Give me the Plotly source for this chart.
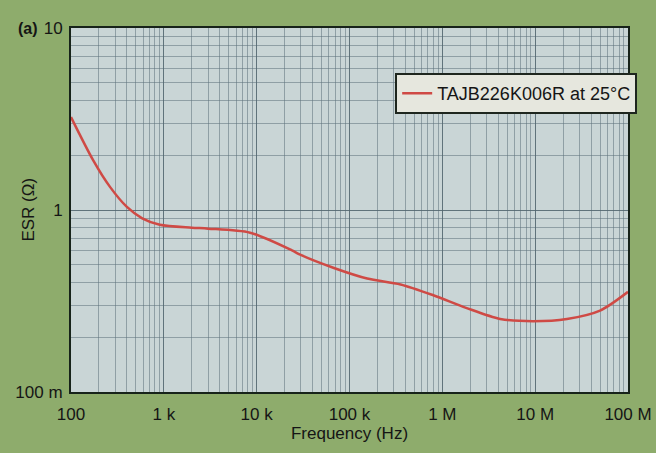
import plotly.graph_objects as go

# Data (frequency in Hz, ESR in ohms)
freq_hz = [100, 173, 263, 400, 585, 905, 2000, 3000, 8500, 24000, 29000, 68000,
           155000, 355000, 800000, 1.8e6, 4.2e6, 9.5e6, 2.2e7, 5.0e7, 1.0e8]
esr_ohm = [3.24, 1.88, 1.34, 1.04, 0.90, 0.83, 0.80, 0.79, 0.75, 0.60, 0.57, 0.48,
           0.42, 0.39, 0.34, 0.29, 0.252, 0.245, 0.252, 0.28, 0.355]

series_name = "TAJB226K006R at 25°C"
x_tick_vals = [1e2, 1e3, 1e4, 1e5, 1e6, 1e7, 1e8]
x_tick_text = ["100", "1 k", "10 k", "100 k", "1 M", "10 M", "100 M"]
y_tick_vals = [0.1, 1, 10]
y_tick_text = ["100 m", "1", "10"]

font_family = "Liberation Sans, Arial, sans-serif"
grid_major = "rgba(80,100,110,0.75)"
grid_minor = "rgba(95,115,125,0.55)"
axis_color = "#17231a"
paper_color = "#8eac6c"

fig = go.Figure()
fig.add_trace(go.Scatter(
    x=freq_hz, y=esr_ohm, mode="lines", name=series_name,
    line=dict(color="#cf4a45", width=2.5, shape="spline", smoothing=0.8),
))

fig.update_layout(
    width=656, height=453,
    margin=dict(l=71, r=28, t=28, b=61, autoexpand=False),
    paper_bgcolor=paper_color,
    plot_bgcolor="#c9d5d6",
    font=dict(family=font_family, size=17, color="#151515"),
    showlegend=True,
    legend=dict(
        x=0.582, xanchor="left", y=0.876, yanchor="top",
        bgcolor="#e6e7de", bordercolor="#1e261e", borderwidth=2,
        font=dict(size=18, color="#151515"),
        itemwidth=30, entrywidth=245,
    ),
    annotations=[
        dict(
            text="<b>(a)</b>", xref="paper", yref="paper", x=-0.055, y=1.0,
            xanchor="right", yanchor="middle", showarrow=False,
            font=dict(size=16, color="#151515"),
        ),
        dict(
            text="ESR (Ω)", xref="paper", yref="paper", x=-0.078, y=0.5,
            xanchor="center", yanchor="middle", textangle=-90, showarrow=False,
            font=dict(size=17, color="#151515"),
        ),
    ],
)

fig.update_xaxes(
    type="log", range=[2, 8], automargin=False,
    tickvals=x_tick_vals, ticktext=x_tick_text,
    showgrid=True, gridcolor=grid_major, gridwidth=1,
    minor=dict(dtick="D1", showgrid=True, gridcolor=grid_minor, gridwidth=1),
    showline=True, linecolor=axis_color, linewidth=2, mirror=True,
    ticks="", ticklabelstandoff=6,
    title=dict(text="Frequency (Hz)", standoff=4, font=dict(size=17)),
    tickfont=dict(size=17),
    zeroline=False,
)
fig.update_yaxes(
    type="log", range=[-1, 1], automargin=False,
    tickvals=y_tick_vals, ticktext=y_tick_text,
    showgrid=True, gridcolor=grid_major, gridwidth=1,
    minor=dict(dtick="D1", showgrid=True, gridcolor=grid_minor, gridwidth=1),
    showline=True, linecolor=axis_color, linewidth=2, mirror=True,
    ticks="", ticklabelstandoff=3,
    tickfont=dict(size=17),
    zeroline=False,
)

fig.write_html(
    "out.html",
    config={"displayModeBar": False},
    post_script="document.body.style.margin='0';document.body.style.background='" + paper_color + "';",
)
